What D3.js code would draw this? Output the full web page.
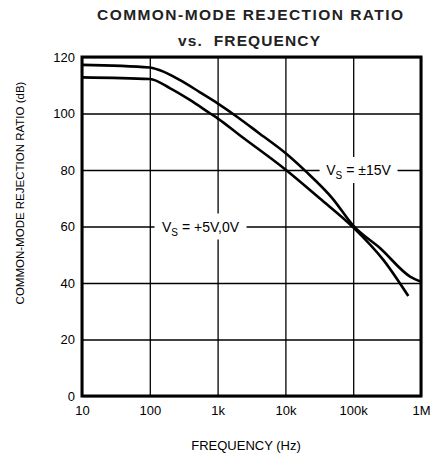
<!DOCTYPE html>
<html>
<head>
<meta charset="utf-8">
<script src="https://cdn.jsdelivr.net/npm/d3@7"></script>
<style>
  body { margin: 0; background: #fff; }
  text { font-family: "Liberation Sans", Arial, sans-serif; }
</style>
</head>
<body>
<script>
// frequency ticks (Hz) and their labels
let freqTicks = [10, 100, 1e3, 1e4, 1e5, 1e6];
let freqLabels = ["10", "100", "1k", "10k", "100k", "1M"];
let dbTicks = [0, 20, 40, 60, 80, 100, 120];

// curves: frequency (Hz), CMRR (dB)
let freq15 = [10, 100, 141, 280, 550, 1000, 2000, 4000, 10000, 20000, 50000, 100000, 250000, 700000, 1000000];
let cmrr15 = [117.2, 116.3, 115.3, 111.8, 107.5, 103.6, 98.6, 93.2, 86.0, 79.5, 69.8, 60.3, 52.3, 42.2, 40.5];

let freq5 = [10, 100, 200, 390, 780, 1000, 2100, 10000, 32000, 100000, 280000, 650000];
let cmrr5 = [112.8, 112.2, 108.9, 104.8, 100.0, 98.3, 92.4, 80.2, 70.0, 59.7, 48.1, 35.4];

let svg = d3.select("body").append("svg")
	.attr("width", 432)
	.attr("height", 458);

let margin = { top: 57, right: 11, bottom: 62, left: 82 };
let width = +svg.attr("width");
let height = +svg.attr("height");
let innerWidth = width - margin.left - margin.right;
let innerHeight = height - margin.top - margin.bottom;

let scaleX = d3.scaleLog()
	.domain([10, 1e6])
	.range([0, innerWidth]);

let scaleY = d3.scaleLinear()
	.domain([0, 120])
	.range([innerHeight, 0]);

let g = svg.append("g")
	.attr("transform", `translate(${margin.left}, ${margin.top})`);

// title (stretched to the width in the original)
svg.append("text")
	.attr("x", 250)
	.attr("y", 19.5)
	.attr("text-anchor", "middle")
	.attr("font-size", 15.5)
	.attr("font-weight", "bold")
	.attr("fill", "#222")
	.attr("textLength", 306)
	.attr("lengthAdjust", "spacing")
	.text("COMMON-MODE REJECTION RATIO");

svg.append("text")
	.attr("x", 249)
	.attr("y", 46)
	.attr("text-anchor", "middle")
	.attr("font-size", 15.5)
	.attr("font-weight", "bold")
	.attr("fill", "#222")
	.attr("xml:space", "preserve")
	.attr("textLength", 142)
	.attr("lengthAdjust", "spacing")
	.text("vs.  FREQUENCY");

// grid + ticks
let xAxis = d3.axisBottom(scaleX)
	.tickValues(freqTicks)
	.tickSize(-innerHeight)
	.tickPadding(10)
	.tickFormat((d, i) => freqLabels[i]);

let yAxis = d3.axisLeft(scaleY)
	.tickValues(dbTicks)
	.tickSize(-innerWidth)
	.tickPadding(7);

let xG = g.append("g")
	.attr("transform", `translate(0, ${innerHeight})`)
	.call(xAxis);

let yG = g.append("g")
	.call(yAxis);

[xG, yG].forEach(a => {
	a.select(".domain").remove();
	a.selectAll("line").attr("stroke", "#000").attr("stroke-width", 1.3);
	a.selectAll("text")
		.attr("font-family", "Liberation Sans, Arial, sans-serif")
		.attr("font-size", 13)
		.attr("fill", "#000");
});

// frame
g.append("rect")
	.attr("width", innerWidth)
	.attr("height", innerHeight)
	.attr("fill", "none")
	.attr("stroke", "#000")
	.attr("stroke-width", 3);

// axis titles
svg.append("text")
	.attr("x", 246)
	.attr("y", 450)
	.attr("text-anchor", "middle")
	.attr("font-size", 13)
	.text("FREQUENCY (Hz)");

svg.append("text")
	.attr("transform", "translate(24, 193) rotate(-90)")
	.attr("text-anchor", "middle")
	.attr("font-size", 11.5)
	.text("COMMON-MODE REJECTION RATIO (dB)");

// curves
let line = d3.line()
	.x(d => scaleX(d[0]))
	.y(d => scaleY(d[1]))
	.curve(d3.curveMonotoneX);

[[freq15, cmrr15], [freq5, cmrr5]].forEach(([f, c]) => {
	g.append("path")
		.datum(f.map((v, i) => [v, c[i]]))
		.attr("fill", "none")
		.attr("stroke", "#000")
		.attr("stroke-width", 2.6)
		.attr("stroke-linejoin", "round")
		.attr("d", line);
});

// curve labels with white backing
function label(f, db, main, sub, rest, w) {
	let cx = scaleX(f), cy = scaleY(db);
	g.append("rect")
		.attr("x", cx - w / 2)
		.attr("y", cy - 13)
		.attr("width", w)
		.attr("height", 26)
		.attr("fill", "#fff");
	let t = g.append("text")
		.attr("x", cx)
		.attr("y", cy + 5)
		.attr("text-anchor", "middle")
		.attr("font-size", 14)
		.attr("xml:space", "preserve");
	t.append("tspan").text(main);
	t.append("tspan").attr("font-size", 10).attr("dy", 4).text(sub);
	t.append("tspan").attr("dy", -4).text(rest);
}

label(1.2e5, 80, "V", "S", " = ±15V", 78);
label(560, 60, "V", "S", " = +5V,0V", 92);
</script>
</body>
</html>
